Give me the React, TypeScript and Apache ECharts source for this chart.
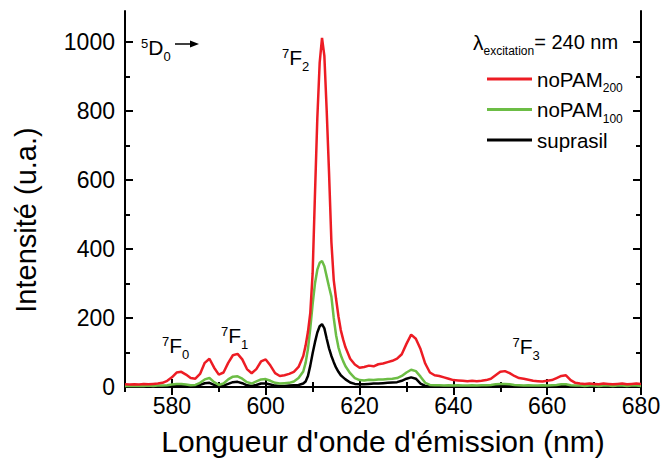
import React, { useEffect, useRef } from "react";
import * as echarts from "echarts";

const wavelengths = [
  570, 571, 572, 573, 574, 575, 576, 577, 578, 579,
  580, 581, 582, 583, 584, 585, 586, 587, 588, 589,
  590, 591, 592, 593, 594, 595, 596, 597, 598, 599,
  600, 601, 602, 603, 604, 605, 606, 607, 608,
  608.5, 609, 609.5, 610, 610.5, 611, 611.5, 612, 612.5, 613, 613.5, 614, 614.5, 615, 615.5, 616, 616.5,
  617, 618, 619,
  620, 621, 622, 623, 624, 625, 626, 627, 628, 629,
  630, 631, 632, 633, 634, 635, 636, 637, 638, 639,
  640, 641, 642, 643, 644, 645, 646, 647, 648, 649,
  650, 651, 652, 653, 654, 655, 656, 657, 658, 659,
  660, 661, 662, 663, 664, 665, 666, 667, 668, 669,
  670, 671, 672, 673, 674, 675, 676, 677, 678, 679, 680,
];

const noPAM200 = [
  8, 7, 8, 7, 9, 8, 9, 10, 12, 18,
  28, 42, 44, 36, 26, 24, 38, 70, 82, 56,
  36, 42, 70, 92, 96, 80, 52, 40, 52, 74,
  80, 62, 40, 32, 34, 38, 44, 58, 90,
  120, 160, 215, 330, 560, 780, 940, 1012, 960, 800, 620, 420, 310, 255, 205, 165, 138,
  115, 82, 65,
  56, 58, 62, 60, 66, 68, 72, 76, 82, 95,
  125, 152, 140, 110, 68, 42, 34, 32, 28, 24,
  20, 19, 18, 17, 18, 17, 18, 20, 24, 34,
  44, 46, 40, 32, 26, 24, 21, 18, 17, 16,
  18, 20, 26, 32, 34, 20, 12, 10, 9, 10,
  9, 8, 10, 9, 8, 9, 10, 8, 9, 10, 9,
];

const noPAM100 = [
  3, 3, 3, 3, 3, 4, 3, 4, 4, 5,
  7, 9, 9, 7, 5, 6, 12, 22, 26, 14,
  6, 10, 22, 30, 31, 24, 14, 10, 16, 22,
  23, 18, 12, 10, 11, 12, 16, 26, 45,
  70, 110, 170, 240, 300, 340, 360, 365, 350, 320, 290, 262, 200, 150, 115, 92, 75,
  60, 40, 26,
  20, 19, 21, 20, 22, 22, 23, 24, 26, 32,
  42, 50, 46, 30, 12, 6, 5, 5, 4, 5,
  4, 5, 4, 4, 5, 4, 5, 5, 6, 8,
  9, 9, 8, 6, 5, 4, 5, 4, 4, 5,
  4, 5, 6, 8, 8, 5, 4, 4, 3, 4,
  4, 3, 4, 4, 3, 4, 4, 3, 4, 4, 3,
];

const suprasil = [
  1, 2, 1, 2, 1, 2, 1, 2, 2, 2,
  3, 4, 4, 3, 2, 3, 6, 11, 12, 6,
  2, 4, 9, 14, 15, 11, 5, 3, 6, 10,
  10, 7, 4, 3, 3, 4, 5, 6, 10,
  16, 32, 62, 98, 130, 158, 176, 182, 170, 140, 112, 90, 72, 56, 44, 34, 28,
  22, 13, 9,
  8, 8, 9, 10, 10, 11, 12, 13, 14, 18,
  24, 28, 24, 10, 3, 2, 2, 1, 2, 1,
  2, 1, 2, 1, 2, 2, 1, 2, 2, 3,
  4, 5, 4, 3, 2, 2, 1, 2, 2, 1,
  2, 2, 3, 4, 4, 2, 1, 2, 1, 2,
  1, 2, 1, 1, 2, 1, 2, 1, 1, 2, 1,
];

const xMajorTicks = [580, 600, 620, 640, 660, 680];
const xMinorTicks = [570, 590, 610, 630, 650, 670];
const yMajorTicks = [0, 200, 400, 600, 800, 1000];
const yMinorTicks = [100, 300, 500, 700, 900];

const seriesNames = ["noPAM200", "noPAM100", "suprasil"];
const seriesColors = ["#ed1c24", "#6cbd45", "#000000"];

// spectroscopic term annotations: [superscript, letter, subscript]
const termLabels = [
  ["5", "D", "0"],
  ["7", "F", "2"],
  ["7", "F", "0"],
  ["7", "F", "1"],
  ["7", "F", "3"],
];

const X_MIN = 570;
const X_MAX = 680;
const Y_MIN = 0;
const Y_MAX = 1090;

const FONT = "'Liberation Sans', Arial, Helvetica, sans-serif";

function pairs(values: number[]) {
  return wavelengths.map((w, i) => [w, values[i]]);
}

const termRich = {
  p: {
    fontSize: 13,
    lineHeight: 13,
    padding: [3.8, 0, 13.2, 0],
    fontFamily: FONT,
    fill: "#000",
  },
  m: { fontSize: 21, lineHeight: 30, fontFamily: FONT, fill: "#000" },
  b: {
    fontSize: 13,
    lineHeight: 13,
    padding: [17, 0, 0, 0],
    fontFamily: FONT,
    fill: "#000",
  },
};

function term(idx: number, x: number, cy: number) {
  const [sup, main, sub] = termLabels[idx];
  return {
    type: "text",
    x,
    y: cy,
    silent: true,
    style: {
      text: `{p|${sup}}{m|${main}}{b|${sub}}`,
      align: "left",
      verticalAlign: "middle",
      fontFamily: FONT,
      fill: "#000",
      rich: termRich,
    },
  };
}

export default function App() {
  const ref = useRef<HTMLDivElement>(null);

  useEffect(() => {
    if (!ref.current) return;
    const chart = echarts.init(ref.current, null, { renderer: "svg" });

    const frameLine = { show: true, lineStyle: { color: "#000", width: 2 } };
    const tickStyle = { color: "#000", width: 2 };

    const xBase = {
      type: "value",
      min: X_MIN,
      max: X_MAX,
      splitLine: { show: false },
    };
    const yBase = {
      type: "value",
      min: Y_MIN,
      max: Y_MAX,
      splitLine: { show: false },
    };

    const option: any = {
      animation: false,
      backgroundColor: "#ffffff",
      grid: { left: 125, right: 23, top: 11, bottom: 70 },
      legend: {
        orient: "vertical",
        left: 487,
        top: 64,
        padding: 0,
        itemGap: 0.5,
        itemWidth: 45,
        itemHeight: 3,
        icon: "rect",
        selectedMode: false,
        data: seriesNames,
        formatter: (name: string) => {
          const m = name.match(/^(.*?)(\d+)$/);
          if (m) return `{n|${m[1]}}{s|${m[2]}}`;
          return `{n|${name}}{s| }`;
        },
        textStyle: {
          color: "#000",
          fontFamily: FONT,
          fontSize: 20,
          rich: {
            n: { fontSize: 20.5, lineHeight: 30, fontFamily: FONT, color: "#000" },
            s: {
              fontSize: 12,
              lineHeight: 12,
              padding: [18, 0, 0, 0],
              fontFamily: FONT,
              color: "#000",
            },
          },
        },
      },
      xAxis: [
        {
          ...xBase,
          position: "bottom",
          axisLine: frameLine,
          axisTick: {
            show: true,
            inside: true,
            length: 8,
            customValues: xMajorTicks,
            lineStyle: tickStyle,
          },
          axisLabel: {
            show: true,
            customValues: xMajorTicks,
            formatter: (v: number) => String(v),
            fontSize: 23,
            fontFamily: FONT,
            color: "#000",
            margin: 7,
          },
          name: "Longueur d'onde d'émission (nm)",
          nameLocation: "middle",
          nameGap: 39,
          nameTextStyle: { fontSize: 30, fontFamily: FONT, color: "#000" },
        },
        {
          ...xBase,
          position: "bottom",
          axisLine: { show: false },
          axisLabel: { show: false },
          axisTick: {
            show: true,
            inside: true,
            length: 5,
            customValues: xMinorTicks,
            lineStyle: tickStyle,
          },
        },
        {
          ...xBase,
          position: "top",
          axisLine: frameLine,
          axisLabel: { show: false },
          axisTick: {
            show: true,
            inside: true,
            length: 8,
            customValues: xMajorTicks,
            lineStyle: tickStyle,
          },
        },
        {
          ...xBase,
          position: "top",
          axisLine: { show: false },
          axisLabel: { show: false },
          axisTick: {
            show: true,
            inside: true,
            length: 5,
            customValues: xMinorTicks,
            lineStyle: tickStyle,
          },
        },
      ],
      yAxis: [
        {
          ...yBase,
          position: "left",
          axisLine: frameLine,
          axisTick: {
            show: true,
            inside: true,
            length: 8,
            customValues: yMajorTicks,
            lineStyle: tickStyle,
          },
          axisLabel: {
            show: true,
            customValues: yMajorTicks,
            formatter: (v: number) => String(v),
            fontSize: 23,
            fontFamily: FONT,
            color: "#000",
            margin: 10,
          },
          name: "Intensité (u.a.)",
          nameLocation: "middle",
          nameGap: 85,
          nameTextStyle: {
            fontSize: 29,
            fontFamily: FONT,
            color: "#000",
            padding: [0, 42, 0, 0],
          },
        },
        {
          ...yBase,
          position: "left",
          axisLine: { show: false },
          axisLabel: { show: false },
          axisTick: {
            show: true,
            inside: true,
            length: 5,
            customValues: yMinorTicks,
            lineStyle: tickStyle,
          },
        },
        {
          ...yBase,
          position: "right",
          axisLine: frameLine,
          axisLabel: { show: false },
          axisTick: {
            show: true,
            inside: true,
            length: 8,
            customValues: yMajorTicks,
            lineStyle: tickStyle,
          },
        },
        {
          ...yBase,
          position: "right",
          axisLine: { show: false },
          axisLabel: { show: false },
          axisTick: {
            show: true,
            inside: true,
            length: 5,
            customValues: yMinorTicks,
            lineStyle: tickStyle,
          },
        },
      ],
      series: [
        {
          name: "suprasil",
          type: "line",
          data: pairs(suprasil),
          showSymbol: false,
          symbol: "none",
          color: seriesColors[2],
          lineStyle: { color: seriesColors[2], width: 2.5 },
          xAxisIndex: 0,
          yAxisIndex: 0,
          z: 3,
        },
        {
          name: "noPAM100",
          type: "line",
          data: pairs(noPAM100),
          showSymbol: false,
          symbol: "none",
          color: seriesColors[1],
          lineStyle: { color: seriesColors[1], width: 2.5 },
          xAxisIndex: 0,
          yAxisIndex: 0,
          z: 4,
        },
        {
          name: "noPAM200",
          type: "line",
          data: pairs(noPAM200),
          showSymbol: false,
          symbol: "none",
          color: seriesColors[0],
          lineStyle: { color: seriesColors[0], width: 2.5 },
          xAxisIndex: 0,
          yAxisIndex: 0,
          z: 5,
        },
      ],
      graphic: [
        {
          type: "text",
          x: 473,
          y: 42,
          silent: true,
          style: {
            text: "{l|λ}{e|excitation}{r|= 240 nm}",
            align: "left",
            verticalAlign: "middle",
            fontFamily: FONT,
            fill: "#000",
            rich: {
              l: { fontSize: 21, lineHeight: 30, fontFamily: FONT, fill: "#000" },
              e: {
                fontSize: 12,
                lineHeight: 12,
                padding: [18, 0, 0, 0],
                fontFamily: FONT,
                fill: "#000",
              },
              r: { fontSize: 20, lineHeight: 30, fontFamily: FONT, fill: "#000" },
            },
          },
        },
        term(0, 141, 47.7),
        {
          type: "line",
          silent: true,
          shape: { x1: 175, y1: 44, x2: 192, y2: 44 },
          style: { stroke: "#000", lineWidth: 1.5 },
        },
        {
          type: "polygon",
          silent: true,
          shape: { points: [[190, 40.5], [199, 44], [190, 47.5]] },
          style: { fill: "#000" },
        },
        term(1, 282, 57.7),
        term(2, 162, 345.7),
        term(3, 221, 335.7),
        term(4, 512.5, 346.7),
      ],
    };

    chart.setOption(option);
    return () => {
      chart.dispose();
    };
  }, []);

  return (
    <div
      ref={ref}
      style={{
        position: "fixed",
        left: 0,
        top: 0,
        width: 664,
        height: 461,
        background: "#fff",
      }}
    />
  );
}
